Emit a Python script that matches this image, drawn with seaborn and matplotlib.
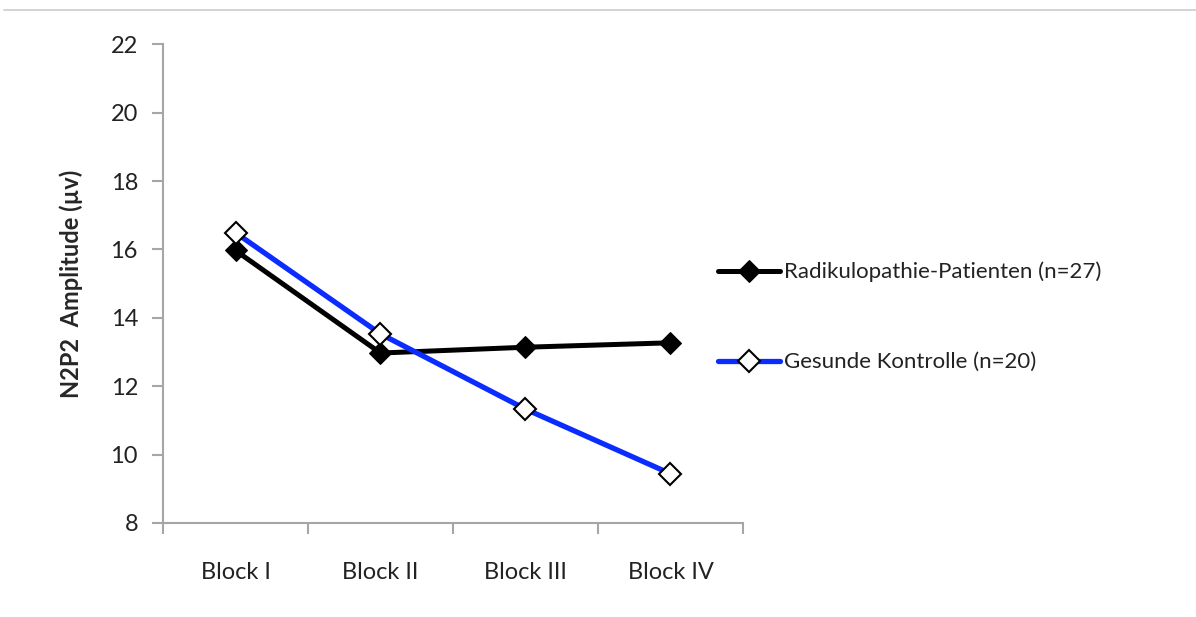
import matplotlib
matplotlib.use("Agg")
import matplotlib.pyplot as plt
from matplotlib.lines import Line2D
import seaborn as sns
import pandas as pd

sns.set_style("white")
plt.rcParams['font.family'] = ['Lato', 'DejaVu Sans']

# data
blocks = ["Block I", "Block II", "Block III", "Block IV"]
patienten = [15.97, 12.97, 13.14, 13.27]
kontrolle = [16.49, 13.53, 11.33, 9.44]
y_ticks = [8, 10, 12, 14, 16, 18, 20, 22]

df = pd.DataFrame({"Block": blocks, "Patienten": patienten, "Kontrolle": kontrolle})

fig = plt.figure(figsize=(11.96, 6.17), dpi=100)
ax = fig.add_axes([0.1363, 0.1524, 0.4849, 0.7758])

sns.lineplot(data=df, x="Block", y="Patienten", ax=ax, color="black", lw=3.6,
             marker="D", markersize=11, markerfacecolor="black", markeredgecolor="black",
             label="Radikulopathie-Patienten (n=27)")
sns.lineplot(data=df, x="Block", y="Kontrolle", ax=ax, color="#0a2cff", lw=3.8,
             marker="D", markersize=11, markerfacecolor="white", markeredgecolor="black",
             markeredgewidth=1.5, label="Gesunde Kontrolle (n=20)")

ax.set_xlim(-0.5, 3.5)
ax.set_ylim(8, 22)
ax.set_yticks(y_ticks)
ax.set_xticks(range(len(blocks)))
ax.set_xticklabels(blocks)
ax.set_xticks([-0.5, 0.5, 1.5, 2.5, 3.5], minor=True)

for s in ["top", "right"]:
    ax.spines[s].set_visible(False)
for s in ["left", "bottom"]:
    ax.spines[s].set_color("#a6a6a6")
    ax.spines[s].set_linewidth(1.5)

ax.tick_params(axis="y", which="major", direction="out", length=8, width=1.5,
               color="#a6a6a6", labelsize=17, pad=10, left=True, labelcolor="#222222")
ax.tick_params(axis="x", which="major", length=0, labelsize=17, pad=28, labelcolor="#222222")
ax.tick_params(axis="x", which="minor", direction="out", length=8, width=1.5,
               color="#a6a6a6", bottom=True)

ax.set_xlabel("")
ax.set_ylabel("N2P2  Amplitude (µv)", fontsize=17, fontweight="bold", labelpad=20)

ax.legend(loc="center left", bbox_to_anchor=(0.6003, 0.4862),
          bbox_transform=fig.transFigure, frameon=False, fontsize=16,
          handlelength=2.8, handletextpad=0.15, labelspacing=3.15,
          borderaxespad=0, borderpad=0, labelcolor="#222222")

# thin separator line at the top of the picture
fig.add_artist(Line2D([0.003, 1.0], [0.984, 0.984], color="#cccccc", lw=1.2,
                      transform=fig.transFigure))

fig.savefig("out.png", dpi=100, facecolor="white")
